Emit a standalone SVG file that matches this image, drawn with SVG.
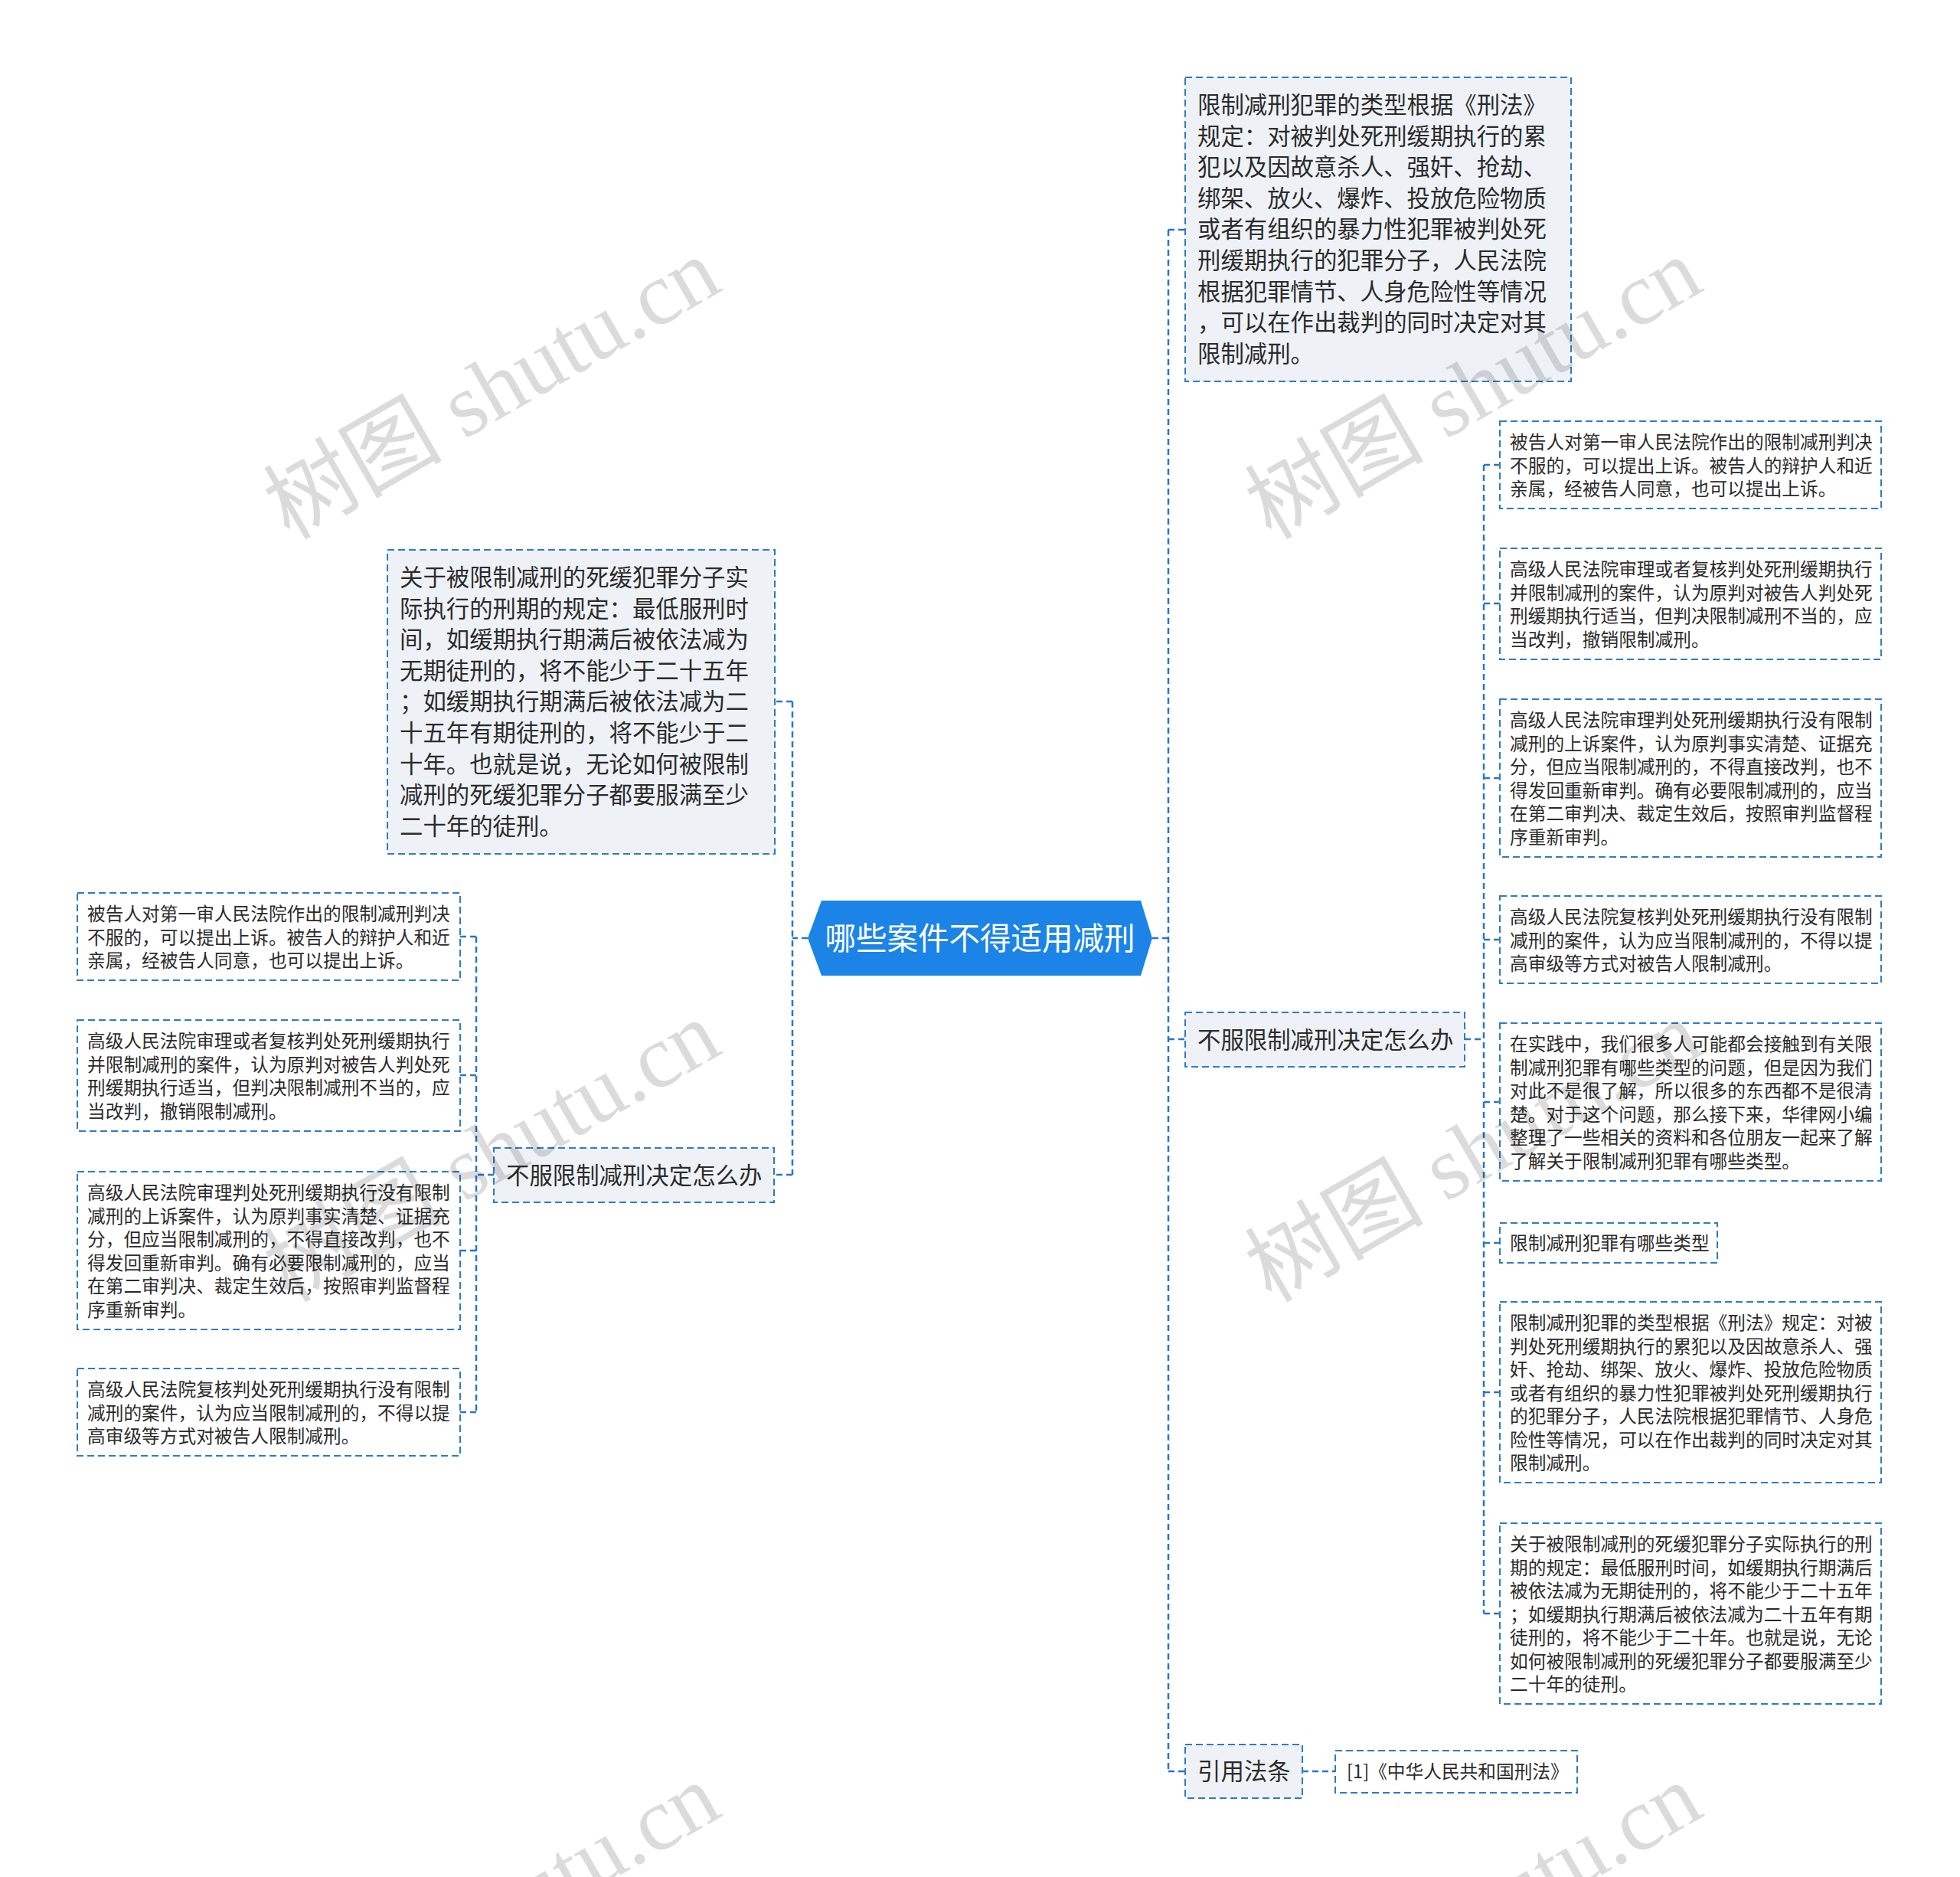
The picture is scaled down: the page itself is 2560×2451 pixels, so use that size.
<svg xmlns="http://www.w3.org/2000/svg" width="2560" height="2451" viewBox="0 0 2560 2451">
<style>
.bg{fill:#ffffff}
.box{stroke:#2f7bc4;stroke-width:2;stroke-dasharray:9 5;fill:#ffffff}
.fill{fill:#eef2f6}
.conn{fill:none;stroke:#2a76c6;stroke-width:2.5;stroke-dasharray:8 5}
.t{font-family:"Noto Sans CJK SC","Microsoft YaHei",sans-serif;fill:#2b2b2b}
.s{font-size:23.7px}
.b{font-size:30.4px}
.c{font-size:40.5px;fill:#ffffff}
.wm{font-family:"Liberation Serif","Noto Sans CJK SC",serif;font-size:117px;fill:#000000;fill-opacity:0.14}
</style>
<rect class="bg" x="0" y="0" width="2560" height="2451"/>

<g id="connectors">
<path class="conn" d="M1055,1225 H1035 M1035,916 V1534 M1035,916 H1012 M1035,1534 H1011"/>
<path class="conn" d="M645,1534 H622 M622,1223 V1844 M622,1223 H601 M622,1404 H601 M622,1633 H601 M622,1844 H601"/>
<path class="conn" d="M1505,1225 H1526 M1526,300 V2313 M1526,300 H1548 M1526,1357 H1548 M1526,2313 H1548"/>
<path class="conn" d="M1913,1357 H1938 M1938,607 V2107 M1938,607 H1959 M1938,788 H1959 M1938,1016 H1959 M1938,1227 H1959 M1938,1439 H1959 M1938,1623 H1959 M1938,1818 H1959 M1938,2107 H1959"/>
<path class="conn" d="M1701,2313 H1744"/>
</g>

<g id="root">
<polygon points="1055,1225 1073,1176 1490,1176 1505,1225 1490,1274 1073,1274" fill="#1b84e6"/>
<text class="t c" x="1280" y="1240" text-anchor="middle">哪些案件不得适用减刑</text>
</g>

<g id="n-top-right">
<rect class="box fill" x="1548" y="101" width="504" height="397"/>
<text class="t b" x="1564" y="148">
<tspan x="1564">限制减刑犯罪的类型根据《刑法》</tspan>
<tspan x="1564" dy="40.6">规定：对被判处死刑缓期执行的累</tspan>
<tspan x="1564" dy="40.6">犯以及因故意杀人、强奸、抢劫、</tspan>
<tspan x="1564" dy="40.6">绑架、放火、爆炸、投放危险物质</tspan>
<tspan x="1564" dy="40.6">或者有组织的暴力性犯罪被判处死</tspan>
<tspan x="1564" dy="40.6">刑缓期执行的犯罪分子，人民法院</tspan>
<tspan x="1564" dy="40.6">根据犯罪情节、人身危险性等情况</tspan>
<tspan x="1564" dy="40.6">，可以在作出裁判的同时决定对其</tspan>
<tspan x="1564" dy="40.6">限制减刑。</tspan>
</text>
</g>

<g id="n-left-big">
<rect class="box fill" x="506" y="718" width="506" height="397"/>
<text class="t b" x="522" y="765">
<tspan x="522">关于被限制减刑的死缓犯罪分子实</tspan>
<tspan x="522" dy="40.6">际执行的刑期的规定：最低服刑时</tspan>
<tspan x="522" dy="40.6">间，如缓期执行期满后被依法减为</tspan>
<tspan x="522" dy="40.6">无期徒刑的，将不能少于二十五年</tspan>
<tspan x="522" dy="40.6">；如缓期执行期满后被依法减为二</tspan>
<tspan x="522" dy="40.6">十五年有期徒刑的，将不能少于二</tspan>
<tspan x="522" dy="40.6">十年。也就是说，无论如何被限制</tspan>
<tspan x="522" dy="40.6">减刑的死缓犯罪分子都要服满至少</tspan>
<tspan x="522" dy="40.6">二十年的徒刑。</tspan>
</text>
</g>

<g id="n-left-bufu">
<rect class="box fill" x="645" y="1499" width="366" height="71"/>
<text class="t b" x="661" y="1546">不服限制减刑决定怎么办</text>
</g>

<g id="n-L1">
<rect class="box" x="101" y="1166" width="500" height="114"/>
<text class="t s" x="114" y="1202">
<tspan x="114">被告人对第一审人民法院作出的限制减刑判决</tspan>
<tspan x="114" dy="30.5">不服的，可以提出上诉。被告人的辩护人和近</tspan>
<tspan x="114" dy="30.5">亲属，经被告人同意，也可以提出上诉。</tspan>
</text>
</g>

<g id="n-L2">
<rect class="box" x="101" y="1332" width="500" height="145"/>
<text class="t s" x="114" y="1368">
<tspan x="114">高级人民法院审理或者复核判处死刑缓期执行</tspan>
<tspan x="114" dy="30.5">并限制减刑的案件，认为原判对被告人判处死</tspan>
<tspan x="114" dy="30.5">刑缓期执行适当，但判决限制减刑不当的，应</tspan>
<tspan x="114" dy="30.5">当改判，撤销限制减刑。</tspan>
</text>
</g>

<g id="n-L3">
<rect class="box" x="101" y="1530" width="500" height="206"/>
<text class="t s" x="114" y="1566">
<tspan x="114">高级人民法院审理判处死刑缓期执行没有限制</tspan>
<tspan x="114" dy="30.5">减刑的上诉案件，认为原判事实清楚、证据充</tspan>
<tspan x="114" dy="30.5">分，但应当限制减刑的，不得直接改判，也不</tspan>
<tspan x="114" dy="30.5">得发回重新审判。确有必要限制减刑的，应当</tspan>
<tspan x="114" dy="30.5">在第二审判决、裁定生效后，按照审判监督程</tspan>
<tspan x="114" dy="30.5">序重新审判。</tspan>
</text>
</g>

<g id="n-L4">
<rect class="box" x="101" y="1787" width="500" height="114"/>
<text class="t s" x="114" y="1823">
<tspan x="114">高级人民法院复核判处死刑缓期执行没有限制</tspan>
<tspan x="114" dy="30.5">减刑的案件，认为应当限制减刑的，不得以提</tspan>
<tspan x="114" dy="30.5">高审级等方式对被告人限制减刑。</tspan>
</text>
</g>

<g id="n-right-bufu">
<rect class="box fill" x="1548" y="1322" width="365" height="71"/>
<text class="t b" x="1564" y="1369">不服限制减刑决定怎么办</text>
</g>

<g id="n-R1">
<rect class="box" x="1959" y="550" width="498" height="114"/>
<text class="t s" x="1972" y="586">
<tspan x="1972">被告人对第一审人民法院作出的限制减刑判决</tspan>
<tspan x="1972" dy="30.5">不服的，可以提出上诉。被告人的辩护人和近</tspan>
<tspan x="1972" dy="30.5">亲属，经被告人同意，也可以提出上诉。</tspan>
</text>
</g>

<g id="n-R2">
<rect class="box" x="1959" y="716" width="498" height="145"/>
<text class="t s" x="1972" y="752">
<tspan x="1972">高级人民法院审理或者复核判处死刑缓期执行</tspan>
<tspan x="1972" dy="30.5">并限制减刑的案件，认为原判对被告人判处死</tspan>
<tspan x="1972" dy="30.5">刑缓期执行适当，但判决限制减刑不当的，应</tspan>
<tspan x="1972" dy="30.5">当改判，撤销限制减刑。</tspan>
</text>
</g>

<g id="n-R3">
<rect class="box" x="1959" y="913" width="498" height="206"/>
<text class="t s" x="1972" y="949">
<tspan x="1972">高级人民法院审理判处死刑缓期执行没有限制</tspan>
<tspan x="1972" dy="30.5">减刑的上诉案件，认为原判事实清楚、证据充</tspan>
<tspan x="1972" dy="30.5">分，但应当限制减刑的，不得直接改判，也不</tspan>
<tspan x="1972" dy="30.5">得发回重新审判。确有必要限制减刑的，应当</tspan>
<tspan x="1972" dy="30.5">在第二审判决、裁定生效后，按照审判监督程</tspan>
<tspan x="1972" dy="30.5">序重新审判。</tspan>
</text>
</g>

<g id="n-R4">
<rect class="box" x="1959" y="1170" width="498" height="114"/>
<text class="t s" x="1972" y="1206">
<tspan x="1972">高级人民法院复核判处死刑缓期执行没有限制</tspan>
<tspan x="1972" dy="30.5">减刑的案件，认为应当限制减刑的，不得以提</tspan>
<tspan x="1972" dy="30.5">高审级等方式对被告人限制减刑。</tspan>
</text>
</g>

<g id="n-R5">
<rect class="box" x="1959" y="1336" width="498" height="206"/>
<text class="t s" x="1972" y="1372">
<tspan x="1972">在实践中，我们很多人可能都会接触到有关限</tspan>
<tspan x="1972" dy="30.5">制减刑犯罪有哪些类型的问题，但是因为我们</tspan>
<tspan x="1972" dy="30.5">对此不是很了解，所以很多的东西都不是很清</tspan>
<tspan x="1972" dy="30.5">楚。对于这个问题，那么接下来，华律网小编</tspan>
<tspan x="1972" dy="30.5">整理了一些相关的资料和各位朋友一起来了解</tspan>
<tspan x="1972" dy="30.5">了解关于限制减刑犯罪有哪些类型。</tspan>
</text>
</g>

<g id="n-R6">
<rect class="box" x="1959" y="1597" width="284" height="52"/>
<text class="t s" x="1972" y="1632">限制减刑犯罪有哪些类型</text>
</g>

<g id="n-R7">
<rect class="box" x="1959" y="1700" width="498" height="236"/>
<text class="t s" x="1972" y="1736">
<tspan x="1972">限制减刑犯罪的类型根据《刑法》规定：对被</tspan>
<tspan x="1972" dy="30.5">判处死刑缓期执行的累犯以及因故意杀人、强</tspan>
<tspan x="1972" dy="30.5">奸、抢劫、绑架、放火、爆炸、投放危险物质</tspan>
<tspan x="1972" dy="30.5">或者有组织的暴力性犯罪被判处死刑缓期执行</tspan>
<tspan x="1972" dy="30.5">的犯罪分子，人民法院根据犯罪情节、人身危</tspan>
<tspan x="1972" dy="30.5">险性等情况，可以在作出裁判的同时决定对其</tspan>
<tspan x="1972" dy="30.5">限制减刑。</tspan>
</text>
</g>

<g id="n-R8">
<rect class="box" x="1959" y="1989" width="498" height="236"/>
<text class="t s" x="1972" y="2025">
<tspan x="1972">关于被限制减刑的死缓犯罪分子实际执行的刑</tspan>
<tspan x="1972" dy="30.5">期的规定：最低服刑时间，如缓期执行期满后</tspan>
<tspan x="1972" dy="30.5">被依法减为无期徒刑的，将不能少于二十五年</tspan>
<tspan x="1972" dy="30.5">；如缓期执行期满后被依法减为二十五年有期</tspan>
<tspan x="1972" dy="30.5">徒刑的，将不能少于二十年。也就是说，无论</tspan>
<tspan x="1972" dy="30.5">如何被限制减刑的死缓犯罪分子都要服满至少</tspan>
<tspan x="1972" dy="30.5">二十年的徒刑。</tspan>
</text>
</g>

<g id="n-cite">
<rect class="box fill" x="1548" y="2278" width="153" height="70"/>
<text class="t b" x="1564" y="2324">引用法条</text>
</g>

<g id="n-cite-1">
<rect class="box" x="1744" y="2286" width="316" height="55"/>
<text class="t s" x="1759" y="2322">[1]《中华人民共和国刑法》</text>
</g>

<g id="watermark">
<text class="wm" transform="translate(378,706) rotate(-30)">树图 shutu.cn</text>
<text class="wm" transform="translate(1660,706) rotate(-30)">树图 shutu.cn</text>
<text class="wm" transform="translate(378,1702) rotate(-30)">树图 shutu.cn</text>
<text class="wm" transform="translate(1660,1702) rotate(-30)">树图 shutu.cn</text>
<text class="wm" transform="translate(378,2698) rotate(-30)">树图 shutu.cn</text>
<text class="wm" transform="translate(1660,2698) rotate(-30)">树图 shutu.cn</text>
</g>
</svg>
